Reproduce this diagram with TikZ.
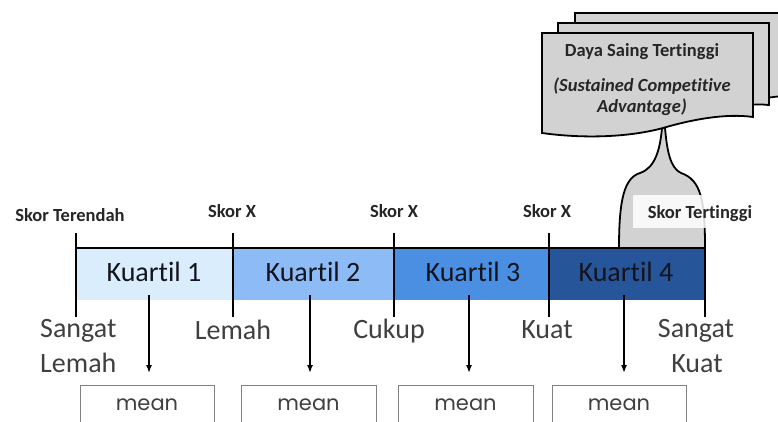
\documentclass[tikz,border=0pt]{standalone}
\usepackage{fontspec}
\setmainfont{Carlito}[Ligatures=NoCommon]
\newfontfamily\meanfont{Poppins}
\usetikzlibrary{arrows.meta}
\definecolor{qone}{RGB}{218,237,252}
\definecolor{qtwo}{RGB}{141,187,245}
\definecolor{qthree}{RGB}{74,143,226}
\definecolor{qfour}{RGB}{38,86,153}
\definecolor{docgray}{RGB}{210,210,210}
\definecolor{lblgray}{RGB}{64,64,64}
\definecolor{boxgray}{RGB}{128,128,128}
\definecolor{txtdark}{RGB}{20,20,30}
\begin{document}
\begin{tikzpicture}[x=1pt,y=-1pt,
  quart/.style={font=\fontsize{28}{30}\selectfont,text=txtdark,inner sep=0pt,anchor=base},
  toplbl/.style={font=\bfseries\fontsize{18.5}{20}\selectfont,text=black!85,inner sep=0pt,anchor=base},
  botlbl/.style={font=\fontsize{28}{30}\selectfont,text=lblgray,inner sep=0pt,anchor=base},
  meanbox/.style={draw=boxgray,line width=0.9pt,minimum width=134pt,minimum height=40pt,inner sep=0pt},
  meantxt/.style={font=\meanfont\fontsize{21}{23}\selectfont,text=lblgray,inner sep=0pt,anchor=base},
  tick/.style={line width=1.6pt,black},
  arr/.style={line width=1.5pt,-{Latex[length=8pt,width=6pt]}},
  doc/.style={draw=black,line width=1.8pt,fill=docgray,line join=miter},
  doctxt/.style={font=\bfseries\fontsize{18.5}{20}\selectfont,text=black!85,inner sep=0pt,anchor=base}
]
\useasboundingbox (0,0) rectangle (778,422);
\fill[white] (0,0) rectangle (778,422);

% stacked documents
\draw[doc] (575,13) -- (792,13) -- (792,95) .. controls (740,100) and (700,110) .. (575,115) -- cycle;
\draw[doc] (558,23) -- (769,23) -- (769,105) .. controls (740,102) and (700,112) .. (680,118) .. controls (640,128) and (600,130) .. (558,125) -- cycle;

% stem
\fill[docgray] (619,248) .. controls (619,200) and (624,178) .. (640,173) .. controls (655,168) and (660,150) .. (662,128) -- (665,128) .. controls (667,150) and (670,168) .. (681,173) .. controls (701,180) and (705,200) .. (705,248) -- cycle;
\draw[line width=1.8pt] (619,248) .. controls (619,200) and (624,178) .. (640,173) .. controls (655,168) and (660,150) .. (662,128);
\draw[line width=1.8pt] (665,128) .. controls (667,150) and (670,168) .. (681,173) .. controls (701,180) and (705,200) .. (705,248);

% front document
\draw[doc] (542,33) -- (753,33) -- (753,117) .. controls (725,113) and (690,120) .. (663,128) .. controls (630,137) and (585,139) .. (542,133) -- cycle;
\node[doctxt] (dst) at (642,57) {Daya Saing Tertinggi};
\node[doctxt,font=\bfseries\itshape\fontsize{18.5}{20}\selectfont] (sca) at (642,92) {(Sustained Competitive};
\node[doctxt,font=\bfseries\itshape\fontsize{18.5}{20}\selectfont] (adv) at (642,113) {Advantage)};

% quartile bar
\fill[qone] (76,249) rectangle (233,300);
\fill[qtwo] (233,249) rectangle (394,300);
\fill[qthree] (394,249) rectangle (549,300);
\fill[qfour] (549,249) rectangle (705,300);
\draw[line width=1.8pt] (76,248) -- (705,248);

\foreach \n/\x in {t0/76,t1/233,t2/394,t3/549,t4/705}{
  \coordinate (\n a) at (\x,233);
  \coordinate (\n b) at (\x,317);
  \draw[tick] (\n a) -- (\n b);
}

\node[quart] (k1) at (154,281) {Kuartil 1};
\node[quart] (k2) at (313,281) {Kuartil 2};
\node[quart] (k3) at (473,281) {Kuartil 3};
\node[quart] (k4) at (626,281) {Kuartil 4};

% top labels
\node[toplbl] (lo) at (70,221) {Skor Terendah};
\node[toplbl] (x1) at (232,217) {Skor X};
\node[toplbl] (x2) at (394,217) {Skor X};
\node[toplbl] (x3) at (547,217) {Skor X};
\node[fill=white,fill opacity=0.85,text opacity=1,minimum width=135pt,minimum height=33pt,inner sep=0pt] (hibox) at (700.5,211.5) {};
\node[toplbl] (hi) at (700,218) {Skor Tertinggi};

% bottom labels
\node[botlbl,anchor=base west] (sl1) at (40,337) {Sangat};
\node[botlbl,anchor=base west] (sl2) at (40,372) {Lemah};
\node[botlbl] (lm) at (233,339) {Lemah};
\node[botlbl] (ck) at (389,338) {Cukup};
\node[botlbl] (kt) at (547,338) {Kuat};
\node[botlbl] (sk1) at (696,337) {Sangat};
\node[botlbl] (sk2) at (697,372) {Kuat};

% mean boxes
\node[meanbox] (m1) at (147,405) {};
\node[meanbox,minimum width=135pt] (m2) at (308.5,405) {};
\node[meanbox,minimum width=135pt] (m3) at (465.5,405) {};
\node[meanbox] (m4) at (619,405) {};
\foreach \i in {1,2,3,4}{
  \node[meantxt] (mt\i) at ([yshift=-5pt]m\i.center) {mean};
}

% arrows
\foreach \i/\x in {1/149,2/310,3/469,4/624}{
  \coordinate (as\i) at (\x,295);
  \coordinate (ae\i) at (\x,373);
  \draw[arr] (as\i) -- (ae\i);
}
\end{tikzpicture}
\end{document}
